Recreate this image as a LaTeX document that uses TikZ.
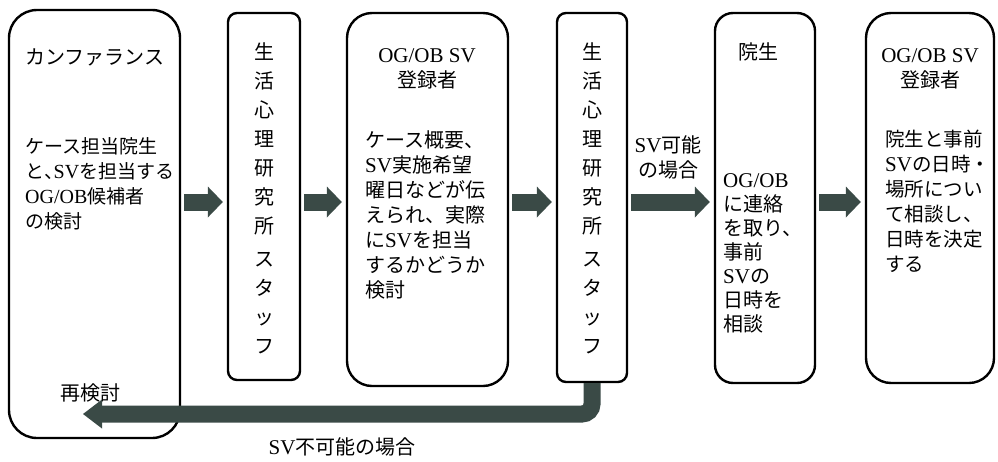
\documentclass[tikz,border=0pt]{standalone}
\usepackage{fontspec}
\setmainfont{Noto Sans CJK JP}
\newfontfamily\latfont{Liberation Serif}
\newcommand\latn[1]{{\latfont\fontsize{21}{25}\selectfont #1}}
\newcommand\latm[1]{{\latfont\fontsize{20}{25}\selectfont #1}}
\newcommand\halfcomma{\makebox[0.5em][l]{、}}
\usetikzlibrary{arrows.meta}
\definecolor{arrowc}{RGB}{58,74,70}
\tikzset{
  box/.style={draw=black, line width=2.4pt, rounded corners=#1, inner sep=0pt},
  blk/.style={draw=arrowc, line width=17pt,
    -{Triangle[length=15pt,width=31pt,line width=0pt]},
    shorten <=3pt, shorten >=4pt},
  txt/.style={inner sep=0pt, font=\fontsize{20}{25}\selectfont},
  vtxt/.style={inner sep=0pt, align=center, font=\fontsize{20}{29}\selectfont},
}
\begin{document}
\begin{tikzpicture}[x=1pt,y=-1pt]
\useasboundingbox (0,0) rectangle (998,461);
% boxes
\node[box=28pt, minimum width=171pt, minimum height=428pt] (b1) at (94.5,224) {};
\node[box=9pt,  minimum width=72pt,  minimum height=367pt] (b2) at (264,196.5) {};
\node[box=25pt, minimum width=161pt, minimum height=373pt] (b3) at (427.5,199.5) {};
\node[box=9pt,  minimum width=70pt,  minimum height=369pt] (b4) at (592,197.5) {};
\node[box=18pt, minimum width=100pt, minimum height=370pt] (b5) at (765,198) {};
\node[box=25pt, minimum width=128pt, minimum height=370pt] (b6) at (930,198) {};
% texts
\node[txt, anchor=west] (t1) at (25,57) {カンファランス};
\node[txt, anchor=north west, align=left, font=\fontsize{19}{25}\selectfont] (t1b) at (25,137.5)
  {ケース担当院生\\と\halfcomma\latm{SV}を担当する\\\latm{OG/OB}候補者\\の検討};
\node[txt, anchor=center] (t1c) at (90,393) {再検討};
\node[vtxt, anchor=north] (t2) at (264,42)
  {生\\活\\心\\理\\研\\究\\所\\[4pt]ス\\タ\\ッ\\フ};
\node[txt, anchor=north, align=center] (t3) at (427,48) {\latn{OG/OB SV}\\登録者};
\node[txt, anchor=north west, align=left] (t3b) at (365,130)
  {ケース概要、\\\latn{SV}実施希望\\曜日などが伝\\えられ、実際\\に\latn{SV}を担当\\するかどうか\\検討};
\node[vtxt, anchor=north] (t4) at (592,42)
  {生\\活\\心\\理\\研\\究\\所\\[4pt]ス\\タ\\ッ\\フ};
\node[txt, anchor=north, align=center] (t45) at (668,135) {\latn{SV}可能\\の場合};
\node[txt, anchor=west] (t5) at (738,52) {院生};
\node[txt, anchor=north west, align=left, font=\fontsize{20}{24}\selectfont] (t5b) at (723,173)
  {\latn{OG/OB}\\に連絡\\を取り、\\事前\\\latn{SV}の\\日時を\\相談};
\node[txt, anchor=north, align=center] (t6) at (930,48) {\latn{OG/OB SV}\\登録者};
\node[txt, anchor=north west, align=left, font=\fontsize{19.5}{25}\selectfont] (t6b) at (885,130)
  {院生と事前\\\latn{SV}の日時・\\場所につい\\て相談し、\\日時を決定\\する};
\node[txt, anchor=center] (t7) at (342,447) {\latn{SV}不可能の場合};
% arrows
\coordinate (row) at (0,202);
\draw[blk] (b1.east |- row) -- (b2.west |- row);
\draw[blk] (b2.east |- row) -- (b3.west |- row);
\draw[blk] (b3.east |- row) -- (b4.west |- row);
\draw[blk] (b4.east |- row) -- (b5.west |- row);
\draw[blk] (b5.east |- row) -- (b6.west |- row);
\coordinate (retip) at (83,414);
\draw[blk, rounded corners=10pt, shorten <=0pt, shorten >=0pt, -{Triangle[length=19pt,width=29pt,line width=0pt]}]
  (b4.south) |- (retip);
\end{tikzpicture}
\end{document}
